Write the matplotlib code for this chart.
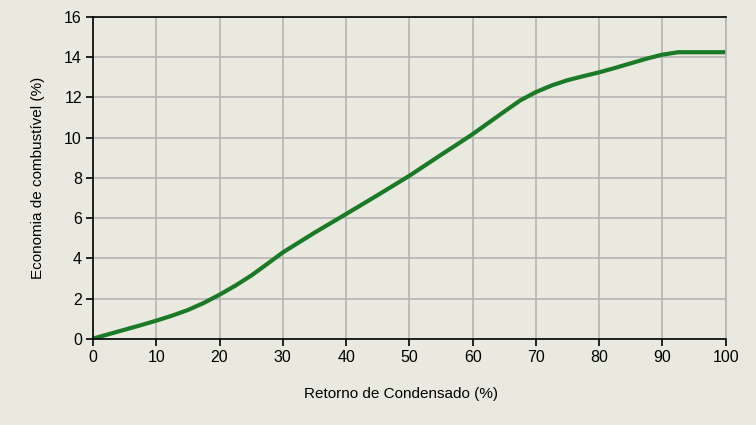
import matplotlib
matplotlib.use("Agg")
import matplotlib.pyplot as plt

plt.rcParams["font.family"] = ["Liberation Sans", "DejaVu Sans"]

# condensate return (%) vs fuel economy (%)
retorno = [0, 2.5, 5, 7.5, 10, 12.5, 15, 17.5, 20, 22.5, 25, 27.5, 30, 35, 40, 45, 50, 55,
           57.5, 60, 62.5, 65, 67.5, 70, 72.5, 75, 77.5, 80, 82.5, 85, 87.5, 90, 92.5, 100]
economia = [0.02, 0.24, 0.46, 0.68, 0.91, 1.16, 1.44, 1.79, 2.2, 2.65, 3.15, 3.72, 4.3, 5.28,
            6.21, 7.15, 8.11, 9.15, 9.66, 10.18, 10.74, 11.3, 11.85, 12.27, 12.6, 12.86,
            13.06, 13.25, 13.47, 13.7, 13.93, 14.13, 14.25, 14.25]

bg = "#eae9df"
fig = plt.figure(figsize=(7.56, 4.25), dpi=100, facecolor=bg)
ax = fig.add_axes([0.123, 0.2024, 0.837, 0.7576], facecolor=bg)

ax.plot(retorno, economia, color="#1b7a27", linewidth=3.0,
        solid_capstyle="butt", solid_joinstyle="round")

ax.set_xlim(0, 100)
ax.set_ylim(0, 16)
ax.set_xticks(range(0, 101, 10))
ax.set_yticks(range(0, 17, 2))
ax.grid(True, color="#b4b4b4", linewidth=1.2)
ax.set_axisbelow(True)

for side in ["left", "bottom", "top"]:
    ax.spines[side].set_color("black")
    ax.spines[side].set_linewidth(1.2)
ax.spines["right"].set_color("#b4b4b4")
ax.spines["right"].set_linewidth(1.2)

ax.tick_params(axis="both", labelsize=11.5, length=5, width=1.2, pad=3)
ax.set_xlabel("Retorno de Condensado (%)", fontsize=11)
ax.xaxis.set_label_coords(0.487, -0.15)
ax.set_ylabel("Economia de combustível (%)", fontsize=11, labelpad=14)

fig.savefig("out.png", dpi=100, facecolor=bg)
